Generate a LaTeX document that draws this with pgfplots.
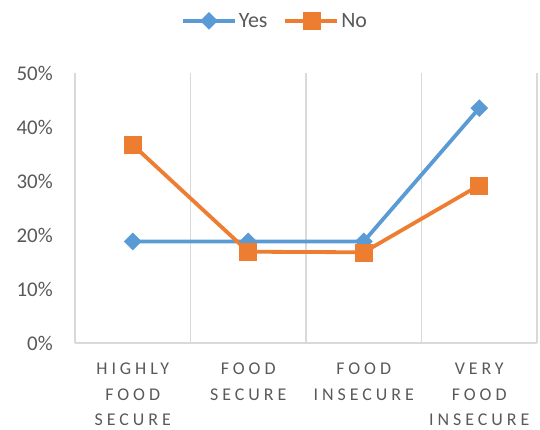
\documentclass[border=0pt]{standalone}
\usepackage{fontspec}
\setmainfont{Carlito}
\newfontfamily\spaced[LetterSpace=22]{Carlito}
\usepackage{pgfplots}
\pgfplotsset{compat=1.18}
\definecolor{cblue}{HTML}{5B9BD5}
\definecolor{corange}{HTML}{ED7D31}
\definecolor{cgrid}{HTML}{D9D9D9}
\definecolor{ctext}{HTML}{595959}
\begin{document}
\begin{tikzpicture}
\path[use as bounding box] (-75bp,-87bp) rectangle (465bp,343bp);
\begin{axis}[
  at={(0,0)}, anchor=south west,
  scale only axis, width=462bp, height=270bp,
  xmin=-0.5, xmax=3.5, ymin=0, ymax=50,
  axis line style={draw=none},
  major tick length=0pt,
  xtick={0,1,2,3},
  xticklabels={{HIGHLY\\FOOD\\SECURE},{FOOD\\SECURE},{FOOD\\INSECURE},{VERY\\FOOD\\INSECURE}},
  x tick label style={align=center, font=\fontsize{18}{25.5}\selectfont\spaced, text=ctext, inner sep=0pt, anchor=north, yshift=-20bp},
  ytick={0,10,20,30,40,50},
  yticklabels={0\%,10\%,20\%,30\%,40\%,50\%},
  y tick label style={font=\fontsize{21}{24}\selectfont, text=ctext, inner sep=0pt, anchor=east, xshift=-22bp},
  extra x ticks={-0.5,0.5,1.5,2.5,3.5}, extra x tick labels={},
  extra x tick style={grid=major, major grid style={cgrid, line width=1.3bp}},
  extra y ticks={0}, extra y tick labels={},
  extra y tick style={grid=major, major grid style={cgrid, line width=1.3bp}},
  legend columns=2,
  legend style={at={(rel axis cs:0.433,1.193)}, anchor=center, draw=none, fill=none,
    font=\fontsize{22}{26}\selectfont, text=ctext,
    /tikz/every even column/.append style={column sep=14bp}},
  legend image code/.code={\draw[mark repeat=2,mark phase=2,#1] plot coordinates {(0bp,0bp) (26bp,0bp) (52bp,0bp)};},
  clip=false,
]
\addplot[color=cblue, line width=3.8bp, mark=square*, mark size=6bp, mark options={rotate=45, solid, line width=0.5bp}]
  coordinates {(0,18.8) (1,18.8) (2,18.8) (3,43.5)};
\addlegendentry{Yes}
\addplot[color=corange, line width=3.8bp, mark=square*, mark size=8.5bp, mark options={solid, line width=0.5bp}]
  coordinates {(0,36.7) (1,16.9) (2,16.8) (3,29.2)};
\addlegendentry{No}
\end{axis}
\end{tikzpicture}
\end{document}
